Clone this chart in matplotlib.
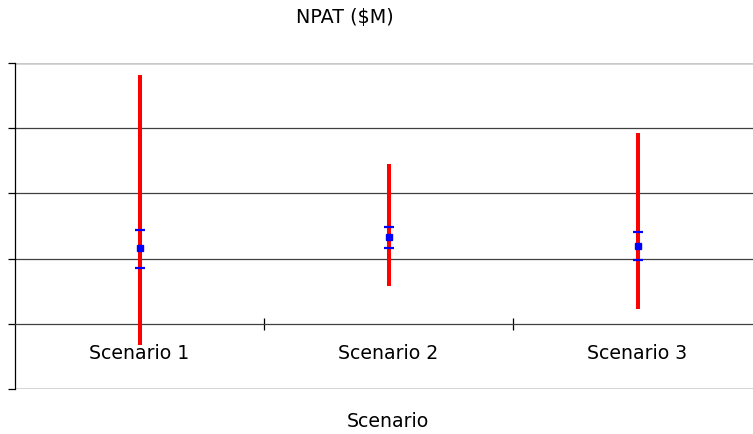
import matplotlib.pyplot as plt

# Scenario summary values ($M)
scenarios = ['Scenario 1', 'Scenario 2', 'Scenario 3']
range_high = [76.4, 49.1, 58.6]
range_low = [-6.4, 11.6, 4.6]
ci_upper = [28.8, 29.8, 28.1]
means = [23.3, 26.6, 24.0]
ci_lower = [17.2, 23.3, 19.7]

plt.rcParams['font.family'] = ['DejaVu Sans']

fig = plt.figure(figsize=(7.53, 4.35), dpi=100)
ax = fig.add_axes([15 / 753, 1 - 390 / 435, 747 / 753, 326 / 435])

x = list(range(1, len(scenarios) + 1))

# red min-max ranges
ax.vlines(x, range_low, range_high, color='#ff0000', linewidth=2.9, zorder=3)
# blue interval caps and mean
ax.plot(x, ci_upper, linestyle='none', marker='_', markersize=7.5,
        markeredgewidth=1.6, color='#0000ff', zorder=4)
ax.plot(x, ci_lower, linestyle='none', marker='_', markersize=7.5,
        markeredgewidth=1.6, color='#0000ff', zorder=4)
ax.plot(x, means, linestyle='none', marker='s', markersize=4.5,
        color='#0000ff', zorder=5)

ax.set_xlim(0.5, len(scenarios) + 0.5)
ax.set_ylim(-20, 80)

# gridlines
for yv in [20, 40, 60]:
    ax.axhline(yv, color='#404040', linewidth=0.9, zorder=1)
for yv in [-20, 80]:
    ax.axhline(yv, color='#c8c8c8', linewidth=1.8, zorder=1)

for s in ['top', 'right']:
    ax.spines[s].set_visible(False)
ax.spines['bottom'].set_position(('data', 0))
ax.spines['bottom'].set_color('#404040')
ax.spines['bottom'].set_linewidth(0.9)
ax.spines['left'].set_color('black')
ax.spines['left'].set_linewidth(0.9)

ax.set_yticks([-20, 0, 20, 40, 60, 80])
ax.set_yticklabels([])
ax.tick_params(axis='y', direction='out', length=5, width=0.9, color='black')

ax.set_xticks(x)
ax.set_xticklabels(scenarios, fontsize=13.6)
ax.set_xticks([1.5, 2.5], minor=True)
ax.tick_params(axis='x', which='major', length=0, pad=14)
ax.tick_params(axis='x', which='minor', direction='inout', length=9, width=0.9, color='black')

fig.text(345 / 753, 1 - 18 / 435, 'NPAT ($M)', ha='center', va='center', fontsize=13.8)
fig.text(388 / 753, 1 - 422 / 435, 'Scenario', ha='center', va='center', fontsize=13.6)

fig.savefig('out.png', dpi=100, facecolor='white')
